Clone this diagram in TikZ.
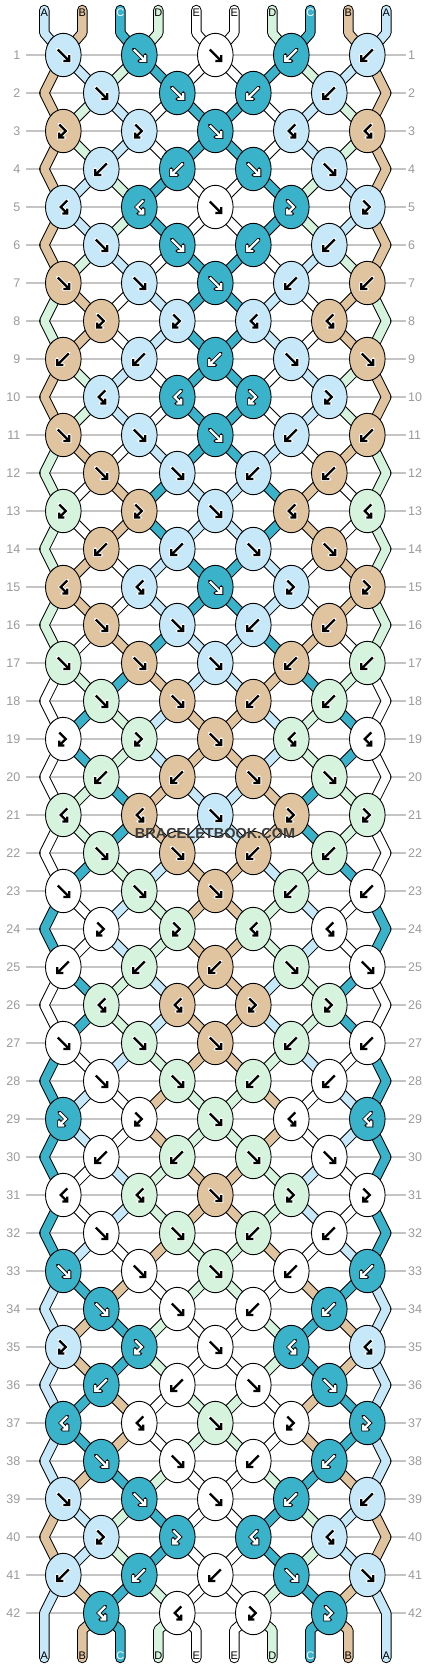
\documentclass[tikz,border=0pt]{standalone}
\usepackage{fontspec}
\setmainfont{Liberation Sans}
\usetikzlibrary{shapes.geometric}

\definecolor{colA}{HTML}{C6E8F8}
\definecolor{colB}{HTML}{E0C4A0}
\definecolor{colC}{HTML}{3AB2CA}
\definecolor{colD}{HTML}{D6F3DE}
\definecolor{colE}{HTML}{FFFFFF}
\colorlet{arrA}{black}\colorlet{arrB}{black}\colorlet{arrC}{white}\colorlet{arrD}{black}\colorlet{arrE}{black}
\colorlet{haloA}{white}\colorlet{haloB}{white}\colorlet{haloC}{black}\colorlet{haloD}{white}\colorlet{haloE}{white}
\colorlet{labA}{black}\colorlet{labB}{black}\colorlet{labC}{white}\colorlet{labD}{black}\colorlet{labE}{black}
\definecolor{rowline}{HTML}{C4C4C4}
\definecolor{rownum}{HTML}{9A9A9A}
\definecolor{wmark}{HTML}{3C3C3C}

\tikzset{
  knot/.style={draw, ellipse, line width=0.9pt, minimum width=35.6pt, minimum height=43.4pt, inner sep=0pt},
  strand out/.style={line width=10.4pt, draw=black, line cap=round, line join=round},
  strand/.style={line width=8.4pt, line cap=round, line join=round},
  rownr/.style={text=rownum, font=\fontsize{12.5}{12.5}\selectfont, inner sep=0pt},
  strname/.style={font=\fontsize{11}{11}\selectfont, inner sep=0pt},
}

\def\glyphf{(-5.5,-5.5) -- (6,6) (6,0) -- (6,6) -- (0,6)}
\def\glyphb{(5.5,-5.5) -- (-6,6) (-6,0) -- (-6,6) -- (0,6)}
\def\glyphfb{(-4,-6.5) -- (2.5,0) -- (-4,6.5) (-4,1.5) -- (-4,6.5) -- (1,6.5)}
\def\glyphbf{(4,-6.5) -- (-2.5,0) -- (4,6.5) (4,1.5) -- (4,6.5) -- (-1,6.5)}

\def\pickcol#1#2#3#4#5#6{\ifcase#6 #1\or#2\or#3\or#4\or#5\fi}

\newcommand\setpt[3]{%
  \ifnum#2=0 \edef#1{t#3}%
  \else\ifnum#2=43 \edef#1{u#3}%
  \else\ifodd#2 \pgfmathtruncatemacro\kk{div(#3,2)+1}\edef#1{k-#2-\kk}%
  \else\ifnum#3=0 \edef#1{m-#2-#3}%
  \else\ifnum#3=9 \edef#1{m-#2-#3}%
  \else\pgfmathtruncatemacro\kk{div(#3-1,2)+1}\edef#1{k-#2-\kk}%
  \fi\fi\fi\fi\fi}

\def\knotrows{
 {A/f,C/f,E/f,C/b,A/b},{A/f,C/f,C/b,A/b},
 {B/fb,A/fb,C/f,A/bf,B/bf},{A/b,C/b,C/f,A/f},
 {A/bf,C/bf,E/f,C/fb,A/fb},{A/f,C/f,C/b,A/b},
 {B/f,A/f,C/f,A/b,B/b},{B/fb,A/fb,A/bf,B/bf},
 {B/b,A/b,C/b,A/f,B/f},{A/bf,C/bf,C/fb,A/fb},
 {B/f,A/f,C/f,A/b,B/b},{B/f,A/f,A/b,B/b},
 {D/fb,B/fb,A/f,B/bf,D/bf},{B/b,A/b,A/f,B/f},
 {B/bf,A/bf,C/f,A/fb,B/fb},{B/f,A/f,A/b,B/b},
 {D/f,B/f,A/f,B/b,D/b},{D/f,B/f,B/b,D/b},
 {E/fb,D/fb,B/f,D/bf,E/bf},{D/b,B/b,B/f,D/f},
 {D/bf,B/bf,A/f,B/fb,D/fb},{D/f,B/f,B/b,D/b},
 {E/f,D/f,B/f,D/b,E/b},{E/fb,D/fb,D/bf,E/bf},
 {E/b,D/b,B/b,D/f,E/f},{D/bf,B/bf,B/fb,D/fb},
 {E/f,D/f,B/f,D/b,E/b},{E/f,D/f,D/b,E/b},
 {C/fb,E/fb,D/f,E/bf,C/bf},{E/b,D/b,D/f,E/f},
 {E/bf,D/bf,B/f,D/fb,E/fb},{E/f,D/f,D/b,E/b},
 {C/f,E/f,D/f,E/b,C/b},{C/f,E/f,E/b,C/b},
 {A/fb,C/fb,E/f,C/bf,A/bf},{C/b,E/b,E/f,C/f},
 {C/bf,E/bf,D/f,E/fb,C/fb},{C/f,E/f,E/b,C/b},
 {A/f,C/f,E/f,C/b,A/b},{A/fb,C/fb,C/bf,A/bf},
 {A/b,C/b,E/b,C/f,A/f},{C/bf,E/bf,E/fb,C/fb}}

\def\strandstates{ABCDE,BADCE,BDAEC,BDAEC,BADCE,BADCE,BDAEC,DBEAC,DBEAC,BDAEC,
 BDAEC,DBEAC,DEBCA,DEBCA,DBEAC,DBEAC,DEBCA,EDCBA,ECDAB,ECDAB,EDCBA,EDCBA,ECDAB,CEADB,
 CEADB,ECDAB,ECDAB,CEADB,CAEBD,CAEBD,CEADB,CEADB,CAEBD,ACBED,ABCDE,ABCDE,ACBED,ACBED,
 ABCDE,BADCE,BADCE,ABCDE,ABCDE}

\newcommand\drawstrands[1]{%
\foreach \st [count=\r from 0] in \strandstates {
  \foreach \p in {0,...,9}{
    \pgfmathtruncatemacro\q{\p<5 ? \p : 9-\p}
    \edef\cl{\expandafter\pickcol\st{\q}}
    \pgfmathtruncatemacro\rn{\r+1}
    \pgfmathtruncatemacro\rnn{\r+2}
    \setpt\pa{\r}{\p}\setpt\pb{\rn}{\p}
    \def\pth{}
    \ifnum\p=0 \def\isedge{1}\else\ifnum\p=9 \def\isedge{1}\else\def\isedge{0}\fi\fi
    \ifnum\r=0 \edef\pth{(e\p) -- (t\p) -- (\pb)}%
    \else
      \ifnum\isedge=1
        \ifodd\r
          \setpt\pc{\rnn}{\p}%
          \ifnum\rnn=43 \edef\pth{(\pa) -- (\pb) -- (\pc) -- (v\p)}%
          \else \edef\pth{(\pa) -- (\pb) -- (\pc)}\fi
        \fi
      \else
        \ifnum\r=42 \edef\pth{(\pa) -- (u\p) -- (v\p)}%
        \else \edef\pth{(\pa) -- (\pb)}\fi
      \fi
    \fi
    \ifx\pth\empty\else
      \ifnum#1=1 \draw[strand out] \pth;\else\draw[strand, draw=col\cl] \pth;\fi
    \fi
  }
}}

\begin{document}
\begin{tikzpicture}[x=1pt, y=-1pt]
\useasboundingbox[fill=white] (0,0) rectangle (430,1668);

\foreach \r in {1,...,42}{
  \pgfmathsetmacro\yy{17+38*\r}
  \node[rownr, anchor=east] (nl\r) at (20.5,\yy) {\r};
  \node[rownr, anchor=west] (nr\r) at (408,\yy) {\r};
  \draw[rowline, line width=1.2pt, shorten <=5.5pt, shorten >=2.3pt] (nl\r.east) -- (nr\r.west);
}

\foreach \p in {0,...,9}{
  \pgfmathsetmacro\xx{44.3+38*\p}
  \coordinate (e\p) at (\xx,10);
  \coordinate (t\p) at (\xx,33);
  \coordinate (u\p) at (\xx,1630);
  \coordinate (v\p) at (\xx,1658);
}
\foreach \r in {2,4,...,42}{
  \pgfmathsetmacro\yy{17+38*\r}
  \coordinate (m-\r-0) at (44.3,\yy);
  \coordinate (m-\r-9) at (386.3,\yy);
}
\foreach \r in {1,...,42}{
  \pgfmathtruncatemacro\nk{mod(\r,2)==1 ? 5 : 4}
  \foreach \k in {1,...,\nk}{
    \pgfmathsetmacro\xx{(mod(\r,2)==1 ? 63.3 : 101.3)+76*(\k-1)}
    \pgfmathsetmacro\yy{17+38*\r}
    \coordinate (k-\r-\k) at (\xx,\yy);
  }
}

\drawstrands{1}
\drawstrands{2}

\foreach \row [count=\r] in \knotrows {
  \foreach \kc/\kt [count=\k] in \row {
    \node[knot, fill=col\kc] (knot-\r-\k) at (k-\r-\k) {};
    \expandafter\let\expandafter\gl\csname glyph\kt\endcsname
    \draw[draw=halo\kc, line width=3.9pt, line cap=round, shift={(k-\r-\k)}] \gl;
    \draw[draw=arr\kc, line width=2.3pt, shift={(k-\r-\k)}] \gl;
  }
}

\foreach \nm [count=\p from 0] in {A,B,C,D,E,E,D,C,B,A}{
  \node[strname, text=lab\nm, yshift=-2.6pt] (top\p) at (e\p) {\nm};
  \node[strname, text=lab\nm, yshift=2pt] (bot\p) at (v\p) {\nm};
}

\node[font=\bfseries\fontsize{14.5}{14.5}\selectfont, text=wmark, inner sep=0pt] (logo) at (215,833) {BRACELETBOOK.COM};
\end{tikzpicture}
\end{document}
